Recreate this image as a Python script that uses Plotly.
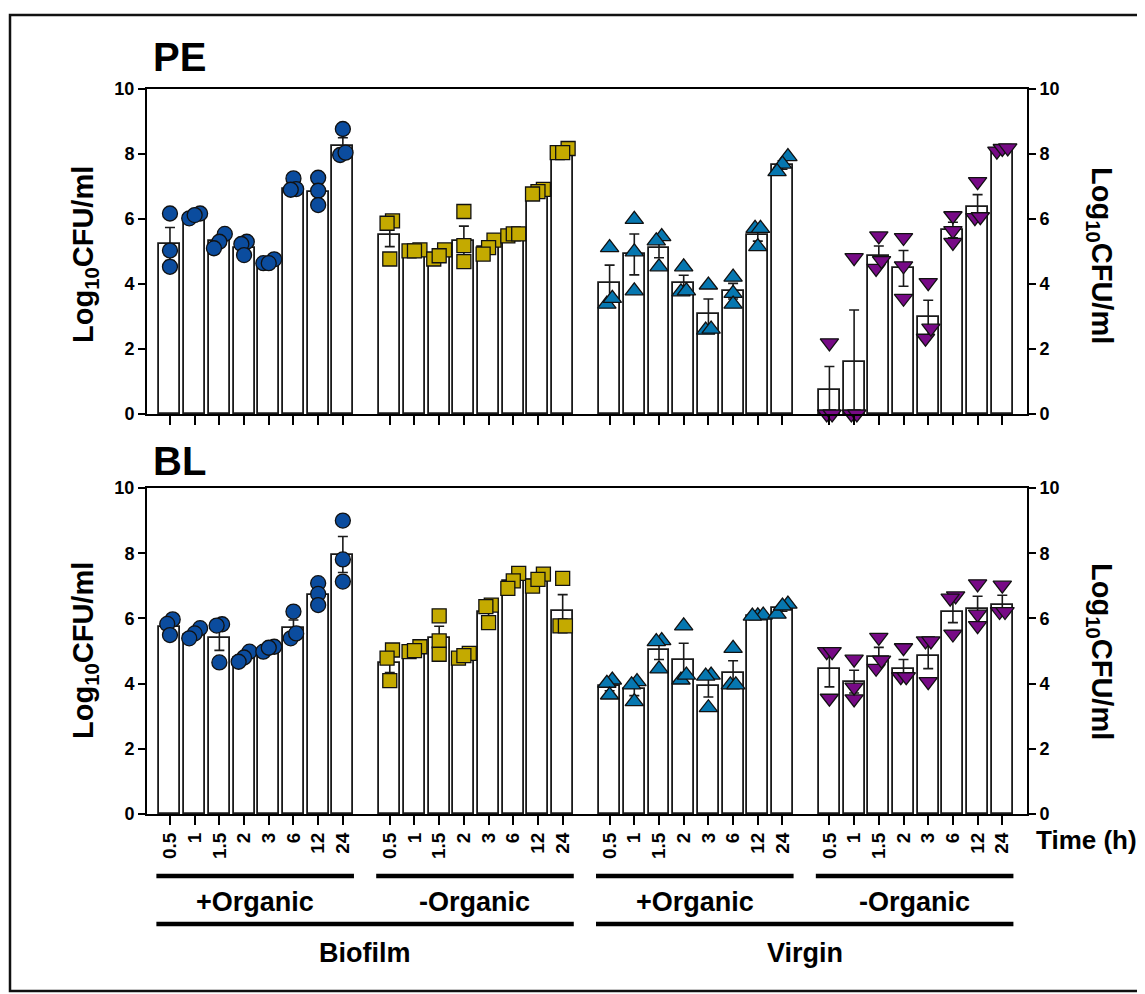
import plotly.graph_objects as go

# ---------------- data ----------------
time_labels = ["0.5", "1", "1.5", "2", "3", "6", "12", "24"]
group_names = ["Biofilm +Organic", "Biofilm -Organic", "Virgin +Organic", "Virgin -Organic"]

# PE panel
pe_bio_org_mean = [5.23, 6.10, 5.31, 5.12, 4.66, 6.92, 6.84, 8.25]
pe_bio_org_sem = [0.51, 0.05, 0.13, 0.13, 0.04, 0.12, 0.24, 0.25]
pe_bio_org_pts = [[6.17, 5.03, 4.53], [6.02, 6.17, 6.12], [5.54, 5.30, 5.10], [5.30, 5.23, 4.89],
                  [4.76, 4.64, 4.64], [7.25, 6.92, 6.90], [7.27, 6.87, 6.43], [8.77, 7.97, 8.04]]

pe_bio_noorg_mean = [5.50, 5.03, 4.90, 5.33, 5.13, 5.52, 6.78, 8.02]
pe_bio_noorg_sem = [0.35, 0.02, 0.08, 0.45, 0.12, 0.03, 0.04, 0.04]
pe_bio_noorg_pts = [[5.94, 5.87, 4.77], [5.02, 5.05, 5.02], [4.77, 5.05, 4.87], [6.23, 5.18, 4.69],
                    [5.35, 5.12, 4.92], [5.48, 5.54, 5.54], [6.91, 6.84, 6.77], [8.17, 8.04, 8.04]]

pe_vir_org_mean = [4.02, 4.91, 5.10, 4.02, 3.07, 3.78, 5.51, 7.66]
pe_vir_org_sem = [0.56, 0.63, 0.29, 0.25, 0.47, 0.24, 0.19, 0.13]
pe_vir_org_pts = [[5.12, 3.38, 3.56], [5.99, 4.99, 3.79], [5.46, 5.33, 4.53], [4.53, 3.76, 3.79],
                  [3.97, 2.58, 2.61], [4.21, 3.71, 3.38], [5.71, 5.71, 5.15], [7.92, 7.69, 7.46]]

pe_vir_noorg_mean = [0.73, 1.60, 4.86, 4.48, 2.97, 5.66, 6.38, 8.12]
pe_vir_noorg_sem = [0.73, 1.60, 0.31, 0.55, 0.53, 0.24, 0.37, 0.03]
pe_vir_noorg_pts = [[2.19, 0.0, 0.0], [4.81, 0.0, 0.0], [5.48, 4.48, 4.72], [5.43, 4.56, 3.56],
                    [4.04, 2.33, 2.64], [6.10, 5.64, 5.28], [7.15, 6.04, 6.07], [8.09, 8.17, 8.19]]

# BL panel
bl_bio_org_mean = [5.75, 5.50, 5.40, 4.80, 5.05, 5.70, 6.72, 7.96]
bl_bio_org_sem = [0.14, 0.09, 0.38, 0.09, 0.05, 0.25, 0.19, 0.55]
bl_bio_org_pts = [[5.97, 5.83, 5.49], [5.70, 5.54, 5.39], [5.82, 5.78, 4.65], [4.98, 4.80, 4.67],
                  [5.13, 4.98, 5.10], [6.21, 5.39, 5.54], [7.08, 6.75, 6.41], [9.00, 7.81, 7.13]]

bl_bio_noorg_mean = [4.62, 5.05, 5.41, 4.86, 6.21, 7.15, 7.18, 6.24]
bl_bio_noorg_sem = [0.28, 0.05, 0.35, 0.05, 0.17, 0.13, 0.11, 0.49]
bl_bio_noorg_pts = [[5.03, 4.78, 4.09], [4.98, 5.13, 5.01], [6.08, 5.31, 4.90], [4.78, 4.93, 4.86],
                    [6.41, 6.36, 5.87], [7.38, 7.15, 6.92], [7.36, 6.99, 7.20], [7.23, 5.77, 5.77]]

bl_vir_org_mean = [3.92, 3.82, 5.02, 4.71, 3.92, 4.33, 6.08, 6.32]
bl_vir_org_sem = [0.14, 0.19, 0.28, 0.53, 0.33, 0.37, 0.02, 0.10]
bl_vir_org_pts = [[4.11, 4.01, 3.65], [4.06, 3.96, 3.45], [5.32, 5.29, 4.45], [5.77, 4.11, 4.26],
                  [4.26, 4.23, 3.26], [5.08, 3.96, 3.96], [6.08, 6.10, 6.07], [6.44, 6.13, 6.38]]

bl_vir_noorg_mean = [4.45, 4.06, 4.83, 4.44, 4.86, 6.21, 6.28, 6.41]
bl_vir_noorg_sem = [0.55, 0.35, 0.28, 0.30, 0.40, 0.34, 0.40, 0.30]
bl_vir_noorg_pts = [[4.98, 4.98, 3.55], [4.75, 3.53, 3.89], [5.42, 4.47, 4.72], [5.10, 4.21, 4.21],
                    [5.31, 5.31, 4.06], [6.69, 6.62, 5.52], [7.06, 6.13, 5.78], [7.02, 6.21, 6.21]]

y_ticks = [0, 2, 4, 6, 8, 10]

# ---------------- styling / layout ----------------
FONT = "Liberation Sans, Arial, Helvetica, sans-serif"
PAGE_OFF = 8                     # default body margin of the html page
W, H = 1145 - PAGE_OFF, 994 - PAGE_OFF
REF_L, REF_T = 147, 89           # plot-area corner in page pixels
PW, PH = 880, 725
L, T = REF_L - PAGE_OFF, REF_T - PAGE_OFF
R, B = W - L - PW, H - T - PH
GROUP_STEP = 8.9
XR = [-0.93, 34.70]

symbols = ["circle", "square", "triangle-up", "triangle-down"]
colors = ["#0b4c9e", "#c4aa00", "#0677b0", "#770a86"]
sizes = [15, 14, 16, 16]


def px_x(px):
    return (px - REF_L) / PW


def px_y(py):
    return (REF_T + PH - py) / PH


def swarm(vals, thresh=0.32, step=0.22):
    """Simple beeswarm: points whose values are close are spread sideways."""
    order = sorted(range(len(vals)), key=lambda i: vals[i])
    clusters, cur = [], [order[0]]
    for a, b in zip(order[:-1], order[1:]):
        if vals[b] - vals[a] <= thresh:
            cur.append(b)
        else:
            clusters.append(cur)
            cur = [b]
    clusters.append(cur)
    off = [0.0] * len(vals)
    for c in clusters:
        n = len(c)
        for k, idx in enumerate(c):
            off[idx] = (k - (n - 1) / 2) * step
    return off


panels = [
    ("x", "y", [pe_bio_org_mean, pe_bio_noorg_mean, pe_vir_org_mean, pe_vir_noorg_mean],
     [pe_bio_org_sem, pe_bio_noorg_sem, pe_vir_org_sem, pe_vir_noorg_sem],
     [pe_bio_org_pts, pe_bio_noorg_pts, pe_vir_org_pts, pe_vir_noorg_pts]),
    ("x2", "y2", [bl_bio_org_mean, bl_bio_noorg_mean, bl_vir_org_mean, bl_vir_noorg_mean],
     [bl_bio_org_sem, bl_bio_noorg_sem, bl_vir_org_sem, bl_vir_noorg_sem],
     [bl_bio_org_pts, bl_bio_noorg_pts, bl_vir_org_pts, bl_vir_noorg_pts]),
]

fig = go.Figure()
all_pos = []
for g in range(4):
    all_pos += [g * GROUP_STEP + i for i in range(len(time_labels))]

for xa, ya, means, sems, pts in panels:
    for g in range(4):
        pos = [g * GROUP_STEP + i for i in range(len(time_labels))]
        fig.add_trace(go.Bar(
            x=pos, y=means[g], width=0.85, xaxis=xa, yaxis=ya,
            marker=dict(color="white", line=dict(color="#1a1a1a", width=1.8)),
            error_y=dict(type="data", array=sems[g], visible=True, color="#1a1a1a",
                         thickness=1.6, width=5),
            name=group_names[g], showlegend=False, hoverinfo="skip"))
    for g in range(4):
        xs, ys = [], []
        for i, vals in enumerate(pts[g]):
            offs = swarm(vals)
            for v, o in zip(vals, offs):
                xs.append(g * GROUP_STEP + i + o)
                ys.append(v)
        fig.add_trace(go.Scatter(
            x=xs, y=ys, mode="markers", xaxis=xa, yaxis=ya, cliponaxis=False,
            marker=dict(symbol=symbols[g], color=colors[g], size=sizes[g],
                        line=dict(color="#111111", width=1.3)),
            showlegend=False, hoverinfo="skip"))

tickfont = dict(family=FONT, size=18, color="black", weight="bold")
xtickfont = dict(family=FONT, size=19, color="black", weight="bold")
pe_dom = [px_y(414), 1.0]
bl_dom = [0.0, px_y(488)]

xcommon = dict(range=XR, domain=[0, 1], showgrid=False, zeroline=False, showline=True,
               linecolor="black", linewidth=2, mirror=True, ticks="outside", ticklen=9,
               tickwidth=1.6, tickcolor="black", tickvals=all_pos,
               ticktext=time_labels * 4, tickfont=xtickfont)
ycommon = dict(range=[0, 10], showgrid=False, zeroline=False, showline=True,
               linecolor="black", linewidth=2, ticks="outside", ticklen=7, tickwidth=1.6,
               tickcolor="black", tickvals=y_ticks, tickfont=tickfont)

fig.update_layout(
    width=W, height=H, margin=dict(l=L, r=R, t=T, b=B),
    paper_bgcolor="white", plot_bgcolor="white", bargap=0, barmode="overlay",
    xaxis=dict(**xcommon, anchor="y", showticklabels=False),
    xaxis2=dict(**xcommon, anchor="y2", showticklabels=True, tickangle=-90),
    yaxis=dict(**ycommon, domain=pe_dom, anchor="x"),
    yaxis2=dict(**ycommon, domain=bl_dom, anchor="x2"),
    yaxis3=dict(**ycommon, domain=pe_dom, anchor="x", overlaying="y", side="right"),
    yaxis4=dict(**ycommon, domain=bl_dom, anchor="x2", overlaying="y2", side="right"),
)

# invisible traces to activate the right-hand axes
fig.add_trace(go.Scatter(x=[XR[0]], y=[0], xaxis="x", yaxis="y3", mode="markers",
                         marker=dict(opacity=0), showlegend=False, hoverinfo="skip"))
fig.add_trace(go.Scatter(x=[XR[0]], y=[0], xaxis="x2", yaxis="y4", mode="markers",
                         marker=dict(opacity=0), showlegend=False, hoverinfo="skip"))

annos = []
bold = lambda s: dict(family=FONT, size=s, color="black", weight="bold")
# panel titles
annos.append(dict(text="PE", x=px_x(151), y=px_y(57), xref="paper", yref="paper",
                  xanchor="left", yanchor="middle", showarrow=False, font=bold(40)))
annos.append(dict(text="BL", x=px_x(151), y=px_y(461), xref="paper", yref="paper",
                  xanchor="left", yanchor="middle", showarrow=False, font=bold(40)))
# axis titles
ytitle = "Log<sub>10</sub>CFU/ml"
for cy in [255, 651]:
    annos.append(dict(text=ytitle, x=px_x(85), y=px_y(cy), xref="paper", yref="paper",
                      textangle=-90, xanchor="center", yanchor="middle", showarrow=False,
                      font=bold(29)))
    annos.append(dict(text=ytitle, x=px_x(1100), y=px_y(cy), xref="paper", yref="paper",
                      textangle=90, xanchor="center", yanchor="middle", showarrow=False,
                      font=bold(29)))
annos.append(dict(text="Time (h)", x=px_x(1086), y=px_y(840), xref="paper", yref="paper",
                  xanchor="center", yanchor="middle", showarrow=False, font=bold(26)))

shapes = []
sub_labels = ["+Organic", "-Organic", "+Organic", "-Organic"]
for g in range(4):
    x0 = g * GROUP_STEP - 0.55
    x1 = g * GROUP_STEP + 7.45
    shapes.append(dict(type="line", xref="x2", yref="paper", x0=x0, x1=x1,
                       y0=px_y(876), y1=px_y(876), line=dict(color="black", width=4.5)))
    annos.append(dict(text=sub_labels[g], x=(x0 + x1) / 2, y=px_y(902), xref="x2",
                      yref="paper", xanchor="center", yanchor="middle", showarrow=False,
                      font=bold(27)))
for k, name in enumerate(["Biofilm", "Virgin"]):
    x0 = 2 * k * GROUP_STEP - 0.55
    x1 = (2 * k + 1) * GROUP_STEP + 7.45
    shapes.append(dict(type="line", xref="x2", yref="paper", x0=x0, x1=x1,
                       y0=px_y(924), y1=px_y(924), line=dict(color="black", width=4.5)))
    annos.append(dict(text=name, x=(x0 + x1) / 2, y=px_y(953), xref="x2", yref="paper",
                      xanchor="center", yanchor="middle", showarrow=False, font=bold(27)))

# outer frame
shapes.append(dict(type="rect", xref="paper", yref="paper", x0=px_x(10), x1=px_x(1139),
                   y0=px_y(991), y1=px_y(15), line=dict(color="#111111", width=2.5),
                   fillcolor="rgba(0,0,0,0)"))

fig.update_layout(annotations=annos, shapes=shapes)
fig.write_html("out.html")
